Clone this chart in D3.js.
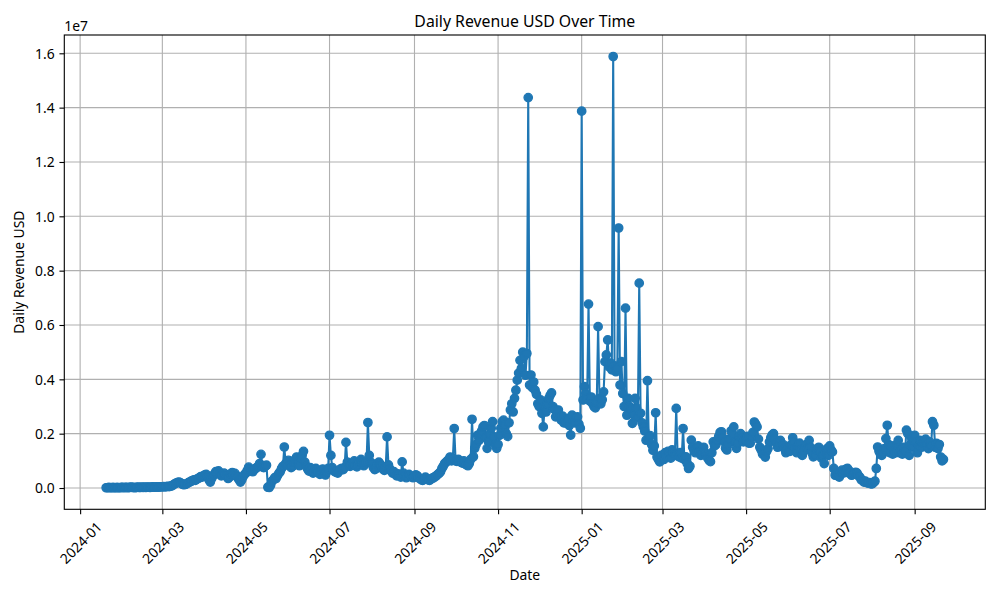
<!DOCTYPE html>
<html>
<head>
<meta charset="utf-8">
<script src="https://cdn.jsdelivr.net/npm/d3@7"></script>
<style>
body { margin: 0; background: #fff; }
text { font-family: "Noto Sans", sans-serif; fill: #000; }
</style>
</head>
<body>
<div id="chart-area"></div>
<script>
// daily revenue, millions of USD, one array per month
var rev2024_01 = [0.01,0.01,0.02,0.01,0.01,0.02,0.01,0.01,0.02,0.01,0.01,0.02];
var rev2024_02 = [0.02,0.01,0.02,0.02,0.01,0.02,0.03,0.02,0.02,0.01,0.02,0.03,0.02,0.02,0.03,0.02,0.03,0.02,0.03,0.03,0.02,0.03,0.04,0.03,0.03,0.04,0.03,0.04,0.04];
var rev2024_03 = [0.04,0.05,0.04,0.05,0.06,0.05,0.07,0.08,0.12,0.15,0.18,0.2,0.22,0.2,0.16,0.13,0.12,0.14,0.16,0.2,0.22,0.25,0.27,0.3,0.28,0.32,0.35,0.38,0.42,0.4,0.45];
var rev2024_04 = [0.48,0.5,0.42,0.3,0.22,0.35,0.45,0.52,0.6,0.55,0.63,0.5,0.45,0.48,0.55,0.5,0.42,0.35,0.4,0.52,0.57,0.48,0.54,0.45,0.38,0.3,0.22,0.3,0.42,0.5];
var rev2024_05 = [0.55,0.65,0.77,0.7,0.62,0.6,0.68,0.72,0.75,0.8,0.9,1.24,0.78,0.75,0.8,0.84,0.03,0.02,0.1,0.25,0.3,0.38,0.35,0.45,0.54,0.6,0.72,0.8,1.51,0.9,0.85];
var rev2024_06 = [1.02,0.85,0.75,0.8,0.95,1.05,1.14,0.9,0.82,1.1,1.2,1.35,0.95,0.8,0.7,0.62,0.75,0.68,0.55,0.6,0.72,0.65,0.58,0.5,0.62,0.7,0.55,0.48,0.6,0.72];
var rev2024_07 = [1.94,1.2,0.75,0.65,0.6,0.58,0.55,0.62,0.7,0.72,0.68,0.75,1.68,0.95,0.88,0.8,0.85,0.9,1.0,0.82,0.78,0.85,0.95,1.05,0.9,0.82,0.88,0.95,2.41,1.2,0.95];
var rev2024_08 = [0.9,0.75,0.68,0.72,0.85,0.95,0.88,0.8,0.7,0.65,0.78,1.88,0.85,0.7,0.62,0.55,0.6,0.5,0.45,0.52,0.48,0.4,0.96,0.55,0.45,0.38,0.42,0.5,0.45,0.4,0.38];
var rev2024_09 = [0.42,0.48,0.45,0.38,0.35,0.3,0.28,0.32,0.4,0.35,0.3,0.28,0.33,0.36,0.38,0.42,0.45,0.5,0.54,0.6,0.72,0.8,0.9,0.95,1.0,1.05,1.14,1.0,1.1,2.19];
var rev2024_10 = [1.0,0.98,1.05,1.0,0.95,0.92,1.0,0.88,0.85,0.82,0.9,1.05,2.53,1.15,1.46,1.6,1.94,1.75,2.0,2.1,2.25,2.3,1.85,1.46,1.7,2.0,2.2,2.44,1.88,1.6,1.46];
var rev2024_11 = [1.6,1.94,2.2,2.44,2.5,2.3,2.0,1.9,2.4,2.87,3.1,2.8,3.3,3.6,3.97,4.23,4.7,4.4,5.0,4.85,4.15,4.95,14.37,3.79,4.16,3.7,3.9,3.6,3.45,3.1];
var rev2024_12 = [3.0,3.24,2.75,2.25,3.0,2.8,3.1,3.3,3.41,3.5,3.0,2.9,2.62,2.7,2.87,2.6,2.5,2.65,2.4,2.45,2.38,2.55,2.3,1.95,2.68,2.45,2.4,2.57,2.62,2.35,2.2];
var rev2025_01 = [13.87,3.24,3.73,3.48,3.3,6.77,3.2,3.35,3.1,3.0,2.95,3.15,5.94,3.3,3.1,3.25,3.54,4.65,4.9,5.45,4.46,4.6,4.35,15.88,4.5,4.28,4.4,9.57,3.79,4.65,3.48];
var rev2025_02 = [3.0,6.62,2.68,3.3,3.0,2.9,2.38,2.7,3.3,2.95,2.6,7.54,2.75,2.4,2.25,2.1,1.76,3.95,1.8,1.93,1.6,1.39,1.55,2.77,1.14,1.05,0.96,1.2];
var rev2025_03 = [1.2,1.05,1.3,1.15,1.35,1.25,1.1,1.4,1.3,1.2,2.93,1.25,1.15,1.3,1.1,2.19,1.05,1.15,0.9,0.72,0.8,1.76,1.5,1.4,1.3,1.45,1.55,1.35,1.2,1.3,1.5];
var rev2025_04 = [1.3,1.2,1.1,1.02,0.97,1.3,1.7,1.55,1.6,1.76,1.9,2.05,2.07,1.85,1.7,1.46,1.4,1.6,1.8,2.1,2.0,2.25,1.7,1.46,1.65,1.9,2.0,1.85,1.7,1.8];
var rev2025_05 = [1.75,1.9,1.65,1.65,1.9,2.05,2.43,2.35,2.25,1.8,1.5,1.4,1.25,1.3,1.14,1.35,1.45,1.7,1.85,1.95,2.0,1.8,1.65,1.5,1.6,1.75,1.55,1.6,1.45,1.3,1.4];
var rev2025_06 = [1.5,1.35,1.6,1.85,1.7,1.45,1.3,1.55,1.65,1.4,1.2,1.35,1.5,1.6,1.45,1.75,1.5,1.3,1.15,1.25,1.2,1.4,1.5,1.35,1.1,1.2,0.9,1.3,1.45,1.2];
var rev2025_07 = [1.55,1.4,1.33,0.72,0.47,0.55,0.45,0.4,0.6,0.66,0.55,0.62,0.7,0.72,0.55,0.6,0.47,0.5,0.52,0.58,0.55,0.45,0.4,0.3,0.28,0.22,0.25,0.2,0.18,0.2,0.15];
var rev2025_08 = [0.15,0.2,0.25,0.72,1.51,1.35,1.25,1.2,1.3,1.45,1.82,2.31,1.6,1.3,1.55,1.25,1.4,1.3,1.6,1.75,1.3,1.4,1.25,1.5,1.35,2.13,2.0,1.2,1.6,1.85,1.5];
var rev2025_09 = [1.94,1.7,1.3,1.55,1.75,1.5,1.65,1.7,1.8,1.6,1.45,1.7,1.55,2.44,2.31,1.5,1.64,1.45,1.6,1.14,1.0,1.05];

// first day of each array
var monthStarts = ["2024-01-20","2024-02-01","2024-03-01","2024-04-01","2024-05-01","2024-06-01",
    "2024-07-01","2024-08-01","2024-09-01","2024-10-01","2024-11-01","2024-12-01",
    "2025-01-01","2025-02-01","2025-03-01","2025-04-01","2025-05-01","2025-06-01",
    "2025-07-01","2025-08-01","2025-09-01"];
var monthValues = [rev2024_01, rev2024_02, rev2024_03, rev2024_04, rev2024_05, rev2024_06,
    rev2024_07, rev2024_08, rev2024_09, rev2024_10, rev2024_11, rev2024_12,
    rev2025_01, rev2025_02, rev2025_03, rev2025_04, rev2025_05, rev2025_06,
    rev2025_07, rev2025_08, rev2025_09];

var xTicks = ["2024-01","2024-03","2024-05","2024-07","2024-09","2024-11",
    "2025-01","2025-03","2025-05","2025-07","2025-09"];
var yTicks = [0, 2e6, 4e6, 6e6, 8e6, 10e6, 12e6, 14e6, 16e6];

var parseDay = d3.utcParse("%Y-%m-%d");
var parseMonth = d3.utcParse("%Y-%m");

var data = [];
monthStarts.forEach(function(s, k) {
    var start = parseDay(s);
    monthValues[k].forEach(function(v, i) {
        data.push({date: d3.utcDay.offset(start, i), revenue: v * 1e6});
    });
});

var margin = {left: 64.3, top: 35, bottom: 90.7, right: 14.7};
var width = 1000 - margin.left - margin.right;
var height = 600 - margin.top - margin.bottom;
var pt = 100 / 72;

var svg = d3.select("#chart-area")
    .append("svg")
        .attr("width", 1000)
        .attr("height", 600);

var g = svg.append("g")
    .attr("transform", "translate(" + margin.left + ", " + margin.top + ")");

// scales with matplotlib style 5% margins
var tExt = d3.extent(data, function(d) { return +d.date; });
var tPad = (tExt[1] - tExt[0]) * 0.05;
var x = d3.scaleUtc()
    .domain([new Date(tExt[0] - tPad), new Date(tExt[1] + tPad)])
    .range([0, width]);

var yExt = d3.extent(data, function(d) { return d.revenue; });
var yPad = (yExt[1] - yExt[0]) * 0.05;
var y = d3.scaleLinear()
    .domain([yExt[0] - yPad, yExt[1] + yPad])
    .range([height, 0]);

var xTickDates = xTicks.map(function(t) { return parseMonth(t); });

// grid
g.append("g").selectAll("line.vgrid")
    .data(xTickDates)
    .enter().append("line")
        .attr("x1", function(d) { return x(d); })
        .attr("x2", function(d) { return x(d); })
        .attr("y1", 0)
        .attr("y2", height)
        .attr("stroke", "#b0b0b0")
        .attr("stroke-width", 0.8 * pt);
g.append("g").selectAll("line.hgrid")
    .data(yTicks)
    .enter().append("line")
        .attr("x1", 0)
        .attr("x2", width)
        .attr("y1", function(d) { return y(d); })
        .attr("y2", function(d) { return y(d); })
        .attr("stroke", "#b0b0b0")
        .attr("stroke-width", 0.8 * pt);

// line + markers
var line = d3.line()
    .x(function(d) { return x(d.date); })
    .y(function(d) { return y(d.revenue); });

g.append("path")
    .datum(data)
    .attr("fill", "none")
    .attr("stroke", "#1f77b4")
    .attr("stroke-width", 1.5 * pt)
    .attr("stroke-linejoin", "round")
    .attr("d", line);

g.append("g").selectAll("circle")
    .data(data)
    .enter().append("circle")
        .attr("cx", function(d) { return x(d.date); })
        .attr("cy", function(d) { return y(d.revenue); })
        .attr("r", 3 * pt)
        .attr("fill", "#1f77b4")
        .attr("stroke", "#1f77b4")
        .attr("stroke-width", 1 * pt);

// axes
var tickLen = 3.5 * pt;
var xAxisCall = d3.axisBottom(x)
    .tickValues(xTickDates)
    .tickFormat(d3.utcFormat("%Y-%m"))
    .tickSize(tickLen)
    .tickPadding(tickLen);
var xAxis = g.append("g")
    .attr("transform", "translate(0, " + height + ")")
    .call(xAxisCall);

var yAxisCall = d3.axisLeft(y)
    .tickValues(yTicks)
    .tickFormat(function(d) { return (d / 1e7).toFixed(1); })
    .tickSize(tickLen)
    .tickPadding(tickLen);
var yAxis = g.append("g")
    .call(yAxisCall);

[xAxis, yAxis].forEach(function(a) {
    a.select(".domain").remove();
    a.selectAll(".tick line").attr("stroke", "#000").attr("stroke-width", 0.8 * pt);
    a.selectAll(".tick text")
        .attr("font-family", "Noto Sans, sans-serif")
        .attr("font-size", 10 * pt + "px")
        .attr("fill", "#000");
});

// rotate date labels 45 degrees, centred under the tick
xAxis.selectAll(".tick text")
    .attr("y", null)
    .attr("dy", null)
    .attr("text-anchor", "middle")
    .attr("dominant-baseline", "central")
    .attr("transform", function() {
        var len = this.getComputedTextLength();
        var hh = (len + 10 * pt) * Math.SQRT1_2;
        return "translate(0, " + (2 * tickLen + hh / 2) + ") rotate(-45)";
    });

yAxis.selectAll(".tick text").attr("dy", "0.35em");

// frame
g.append("rect")
    .attr("width", width)
    .attr("height", height)
    .attr("fill", "none")
    .attr("stroke", "#000")
    .attr("stroke-width", 0.8 * pt);

// offset text
g.append("text")
    .attr("x", 0)
    .attr("y", -4)
    .attr("font-size", 10 * pt + "px")
    .text("1e7");

// title
g.append("text")
    .attr("x", width / 2)
    .attr("y", -8.3)
    .attr("text-anchor", "middle")
    .attr("font-size", "15.8px")
    .text("Daily Revenue USD Over Time");

// x label
g.append("text")
    .attr("x", width / 2)
    .attr("y", height + 71)
    .attr("text-anchor", "middle")
    .attr("font-size", 10 * pt + "px")
    .text("Date");

// y label
g.append("text")
    .attr("x", -(height / 2))
    .attr("y", -margin.left + 24)
    .attr("text-anchor", "middle")
    .attr("transform", "rotate(-90)")
    .attr("font-size", 10 * pt + "px")
    .text("Daily Revenue USD");
</script>
</body>
</html>
